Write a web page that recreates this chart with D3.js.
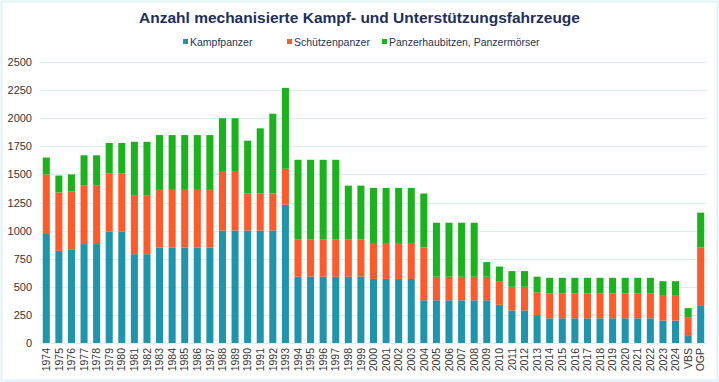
<!DOCTYPE html>
<html lang="de">
<head>
<meta charset="utf-8">
<title>Mechanisierte Fahrzeuge</title>
<script src="https://cdn.jsdelivr.net/npm/d3@7"></script>
<style>
    body { margin: 0; background: #fff; }
    #canvas { display: block; }
    text { font-family: "Liberation Sans", Arial, sans-serif; }
</style>
</head>
<body>
<svg id="canvas" width="719" height="382"></svg>
<script>
    // categories and values
    const categories = ["1974","1975","1976","1977","1978","1979","1980","1981","1982","1983",
        "1984","1985","1986","1987","1988","1989","1990","1991","1992","1993",
        "1994","1995","1996","1997","1998","1999","2000","2001","2002","2003",
        "2004","2005","2006","2007","2008","2009","2010","2011","2012","2013",
        "2014","2015","2016","2017","2018","2019","2020","2021","2022","2023",
        "2024","VBS","OGP"]
    const kampfpanzer = [970,820,830,880,880,990,990,790,790,850,
        850,850,850,850,1000,1000,1000,1000,1000,1230,
        590,590,590,590,590,590,570,570,570,570,
        380,380,380,380,380,380,340,290,290,240,
        220,220,220,220,220,220,220,220,220,200,
        200,70,330]
    const schuetzenpanzer = [530,520,520,520,520,520,520,520,520,520,
        520,520,520,520,530,530,330,330,330,320,
        330,330,330,330,330,330,320,320,320,320,
        470,210,210,210,210,210,210,210,210,210,
        220,220,220,220,220,220,220,220,220,220,
        220,160,520]
    const panzerhaubitzen = [150,150,150,270,270,270,270,480,480,480,
        480,480,480,480,470,470,470,580,710,720,
        710,710,710,710,480,480,490,490,490,490,
        480,480,480,480,480,130,130,140,140,140,
        140,140,140,140,140,140,140,140,140,130,
        130,80,310]
    const seriesNames = ["Kampfpanzer", "Schützenpanzer", "Panzerhaubitzen, Panzermörser"]
    const seriesColors = ["#1f95ad", "#ff5a2a", "#1bb31c"]
    const yTicks = [0,250,500,750,1000,1250,1500,1750,2000,2250,2500]

    const svg = d3.select('#canvas')
    const W = 719, H = 382
    const margin = {left: 40, right: 12, top: 62, bottom: 39}

    // light frame around the chart
    svg.append("rect")
        .attr("x", 1.5).attr("y", 1.5)
        .attr("width", W - 3).attr("height", H - 3)
        .attr("fill", "#fff")
        .attr("stroke", "#dff3f7")
        .attr("stroke-width", 2)

    const table = categories.map((c, i) => ({
        cat: c,
        Kampfpanzer: kampfpanzer[i],
        "Schützenpanzer": schuetzenpanzer[i],
        "Panzerhaubitzen, Panzermörser": panzerhaubitzen[i]
    }))
    const stacked = d3.stack().keys(seriesNames)(table)

    const x = d3.scaleBand()
        .domain(categories)
        .range([margin.left, W - margin.right])
        .paddingInner(0.44)
        .paddingOuter(0.22)
    const y = d3.scaleLinear()
        .domain([0, 2500])
        .range([H - margin.bottom, margin.top])

    // grid lines
    svg.append("g")
        .selectAll("line")
        .data(yTicks)
        .join("line")
        .attr("x1", margin.left)
        .attr("x2", W - margin.right)
        .attr("y1", d => Math.round(y(d)) + 0.5)
        .attr("y2", d => Math.round(y(d)) + 0.5)
        .attr("stroke", "#d4f1f6")
        .attr("stroke-width", 1.2)

    // y axis labels
    const yAxis = d3.axisLeft(y).tickValues(yTicks).tickFormat(d3.format("d")).tickSize(0).tickPadding(8)
    svg.append("g")
        .attr("transform", `translate(${margin.left},0)`)
        .call(yAxis)
        .call(g => g.select(".domain").remove())
        .selectAll("text")
        .attr("font-size", 11)
        .attr("fill", "#333")

    // bars
    svg.append("g")
        .selectAll("g")
        .data(stacked)
        .join("g")
        .attr("fill", (d, i) => seriesColors[i])
        .selectAll("rect")
        .data(d => d)
        .join("rect")
        .attr("x", d => x(d.data.cat))
        .attr("width", x.bandwidth())
        .attr("y", d => y(d[1]))
        .attr("height", d => y(d[0]) - y(d[1]))

    // x axis labels
    const xAxis = d3.axisBottom(x).tickSize(0).tickPadding(0)
    svg.append("g")
        .attr("transform", `translate(0,${H - margin.bottom})`)
        .call(xAxis)
        .call(g => g.select(".domain").remove())
        .selectAll("text")
        .attr("font-size", 10.5)
        .attr("fill", "#333")
        .attr("text-anchor", "end")
        .attr("transform", "rotate(-90)")
        .attr("x", -5)
        .attr("y", 0)
        .attr("dy", "0.35em")

    // title
    svg.append("text")
        .attr("x", W / 2)
        .attr("y", 23)
        .attr("text-anchor", "middle")
        .attr("font-size", 15.5)
        .attr("font-weight", "bold")
        .attr("fill", "#1c2f5e")
        .text("Anzahl mechanisierte Kampf- und Unterstützungsfahrzeuge")

    // legend
    const legendX = [183, 287, 382]
    const legend = svg.append("g")
        .selectAll("g")
        .data(seriesNames)
        .join("g")
        .attr("transform", (d, i) => `translate(${legendX[i]},42)`)
    legend.append("rect")
        .attr("x", 0).attr("y", -3)
        .attr("width", 5).attr("height", 5)
        .attr("fill", (d, i) => seriesColors[i])
    legend.append("text")
        .attr("x", 7)
        .attr("y", 0)
        .attr("dy", "0.35em")
        .attr("font-size", 10.5)
        .attr("fill", "#1d3550")
        .text(d => d)
</script>
</body>
</html>
